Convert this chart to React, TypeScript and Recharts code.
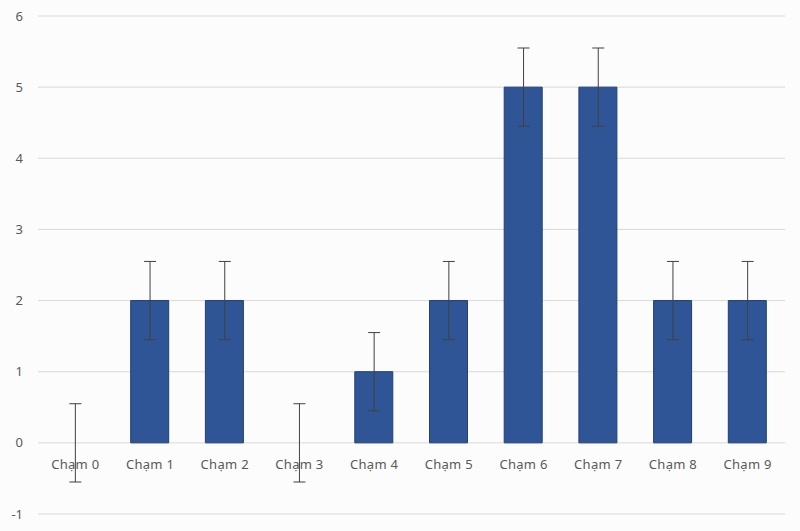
import { ComposedChart, Bar, Scatter, XAxis, YAxis, CartesianGrid, ErrorBar, ReferenceDot } from "recharts";

const categories = ["Chạm 0", "Chạm 1", "Chạm 2", "Chạm 3", "Chạm 4", "Chạm 5", "Chạm 6", "Chạm 7", "Chạm 8", "Chạm 9"];
const values = [0, 2, 2, 0, 1, 2, 5, 5, 2, 2];
const errors = [0.55, 0.55, 0.55, 0.55, 0.55, 0.55, 0.55, 0.55, 0.55, 0.55];
const yTicks = [-1, 0, 1, 2, 3, 4, 5, 6];

const data = categories.map((name, i) => ({ name, value: values[i], err: errors[i] }));

const font = "'Noto Sans', sans-serif";

// invisible point, only the error bar is drawn
const NoDot = () => <g />;

function App() {
  return (
    <div style={{ position: "absolute", left: 0, top: 0, width: 800, height: 531, background: "#fcfcfc" }}>
      <ComposedChart
        width={800}
        height={531}
        data={data}
        margin={{ top: 16, right: 15, left: 0, bottom: 17 }}
      >
        <CartesianGrid vertical={false} stroke="#d9d9d9" />
        <XAxis dataKey="name" hide />
        <YAxis
          domain={[-1, 6]}
          ticks={yTicks}
          width={38}
          axisLine={false}
          tickLine={false}
          tickMargin={9}
          tick={{ fill: "#595959", fontSize: 13, fontFamily: font }}
        />
        <Bar dataKey="value" fill="#2f5597" stroke="#1f3f75" strokeWidth={1} barSize={38} isAnimationActive={false} />
        <Scatter dataKey="value" shape={NoDot} isAnimationActive={false}>
          <ErrorBar dataKey="err" direction="y" width={6} stroke="#404040" strokeWidth={1} />
        </Scatter>
        {categories.map((c) => (
          <ReferenceDot
            key={c}
            x={c}
            y={0}
            r={0}
            fill="none"
            stroke="none"
            ifOverflow="visible"
            label={{ value: c, position: "bottom", offset: 17, fill: "#595959", fontSize: 13, fontFamily: font, letterSpacing: 0.3 }}
          />
        ))}
      </ComposedChart>
    </div>
  );
}

export default App;
